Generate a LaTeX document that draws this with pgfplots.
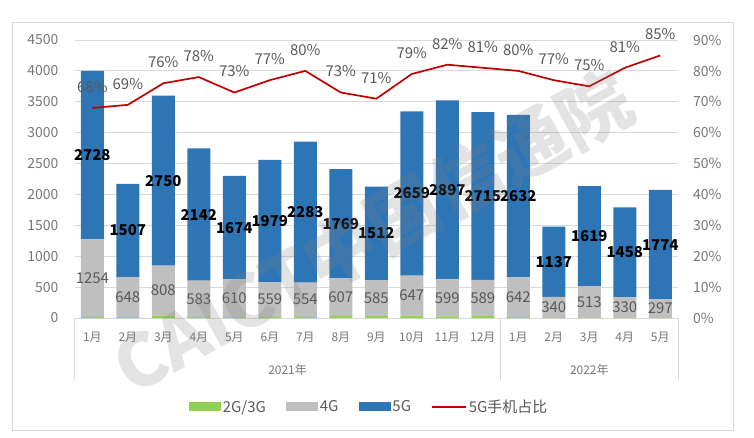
\documentclass[border=0pt]{standalone}
\usepackage{fontspec}
\setmainfont{Noto Sans CJK SC}
\usepackage{pgfplots}
\usepackage{pgfplotstable}
\pgfplotsset{compat=1.18}
\pgfkeys{/pgf/number format/1000 sep={}}

\definecolor{cgreen}{HTML}{92D050}
\definecolor{cgray}{HTML}{BFBFBF}
\definecolor{cblue}{HTML}{2E75B6}
\definecolor{cred}{HTML}{C00000}
\definecolor{gridc}{HTML}{D9D9D9}
\definecolor{tickc}{HTML}{767676}
\definecolor{labc}{HTML}{595959}

% month index, 2G/3G, 4G, 5G, 5G share (%)
\pgfplotstableread{
x g23 g4 g5 pct
0 20 1254 2728 68
1 15 648 1507 69
2 40 808 2750 76
3 20 583 2142 78
4 15 610 1674 73
5 20 559 1979 77
6 20 554 2283 80
7 35 607 1769 73
8 30 585 1512 71
9 40 647 2659 79
10 25 599 2897 82
11 30 589 2715 81
12 15 642 2632 80
13 3 340 1137 77
14 3 513 1619 75
15 3 330 1458 81
16 3 297 1774 85
}\phones

\pgfplotsset{
  base/.style={
    at={(74.6bp,120bp)}, anchor=south west,
    scale only axis, width=603.4bp, height=278bp,
    xmin=-0.5, xmax=16.5,
    axis line style={draw=none},
    major tick length=0pt,
    /pgf/number format/assume math mode=true,
  },
  barleg/.style={legend image code/.code={
      \fill[##1] (0bp,-4.5bp) rectangle (32bp,4.5bp);}},
  lineleg/.style={legend image code/.code={
      \draw[##1] (0bp,0bp) -- (34bp,0bp);}},
}

\begin{document}
\begin{tikzpicture}
\path[use as bounding box] (0bp,0bp) rectangle (754bp,438bp);
\draw[gridc, line width=0.8bp] (12.7bp,8bp) rectangle (733bp,416bp);

% bars
\begin{axis}[base, clip=false,
    ybar stacked, bar width=23bp,
    ymin=0, ymax=4500, ytick={0,500,...,4500},
    ymajorgrids, grid style={gridc, line width=0.8bp},
    ytick pos=left,
    yticklabel style={anchor=east, inner sep=0pt, xshift=-16bp,
      font=\fontsize{14}{16}\selectfont, text=tickc},
    xtick={0,...,16},
    xticklabels={1月,2月,3月,4月,5月,6月,7月,8月,9月,10月,11月,12月,1月,2月,3月,4月,5月},
    xticklabel style={anchor=base, inner sep=0pt, yshift=-23bp,
      font=\fontsize{12}{14}\selectfont, text=tickc},
    legend style={draw=none, at={(0.488,-0.32)}, anchor=center,
      legend columns=4, font=\fontsize{15}{17}\selectfont, text=labc,
      /tikz/every even column/.append style={column sep=18bp},
      inner sep=0pt},
  ]
  \addplot[fill=cgreen, draw=none, barleg] table[x=x, y=g23] {\phones};
  \addlegendentry{2G/3G}
  \addplot[fill=cgray, draw=none, barleg] table[x=x, y=g4] {\phones};
  \addlegendentry{4G}
  \addplot[fill=cblue, draw=none, barleg] table[x=x, y=g5] {\phones};
  \addlegendentry{5G}
  \addlegendimage{cred, line width=1.8bp, lineleg}
  \addlegendentry{5G手机占比}
  \draw[gridc, line width=0.8bp] (axis cs:-0.5,0) -- (axis cs:16.5,0);
  \draw[gridc, line width=0.8bp] (axis cs:-0.5,0) -- ++(0bp,-62bp);
  \draw[gridc, line width=0.8bp] (axis cs:11.5,0) -- ++(0bp,-62bp);
  \draw[gridc, line width=0.8bp] (axis cs:16.5,0) -- ++(0bp,-62bp);
  \node[text=tickc, font=\fontsize{12}{14}\selectfont] at (axis cs:5.5,0) [yshift=-52bp] {2021年};
  \node[text=tickc, font=\fontsize{12}{14}\selectfont] at (axis cs:14,0) [yshift=-52bp] {2022年};
\end{axis}

% segment labels
\begin{axis}[base, ymin=0, ymax=4500, ytick=\empty, xtick=\empty]
  \addplot[draw=none, mark=none, point meta=explicit symbolic,
    nodes near coords={\pgfplotspointmeta},
    every node near coord/.style={anchor=center, inner sep=0pt,
      text=labc, font=\fontsize{15}{17}\selectfont}]
    table[x=x, y expr=\thisrow{g23}+\thisrow{g4}/2, meta=g4] {\phones};
  \addplot[draw=none, mark=none, point meta=explicit symbolic,
    nodes near coords={\pgfplotspointmeta},
    every node near coord/.style={anchor=center, inner sep=0pt,
      text=black, font=\fontsize{15}{17}\selectfont\bfseries}]
    table[x=x, y expr=\thisrow{g23}+\thisrow{g4}+\thisrow{g5}/2, meta=g5] {\phones};
\end{axis}

% share line
\begin{axis}[base, ymin=0, ymax=90, ytick={0,10,...,90},
    axis y line*=right, axis x line=none,
    yticklabel={\pgfmathprintnumber{\tick}\%},
    yticklabel style={anchor=west, inner sep=0pt, xshift=15bp,
      font=\fontsize{14}{16}\selectfont, text=tickc},
  ]
  \addplot[cred, line width=1.7bp, mark=none, point meta=y,
    nodes near coords={\pgfmathprintnumber{\pgfplotspointmeta}\%},
    every node near coord/.style={anchor=center, inner sep=0pt, yshift=21bp,
      text=labc, font=\fontsize{15}{17}\selectfont}]
    table[x=x, y=pct] {\phones};
\end{axis}

% watermark
\node[rotate=29, opacity=0.22, text=gray, font=\fontsize{73}{73}\selectfont\bfseries]
  at (372bp,206bp) {CAICT中国信通院};
\end{tikzpicture}
\end{document}
